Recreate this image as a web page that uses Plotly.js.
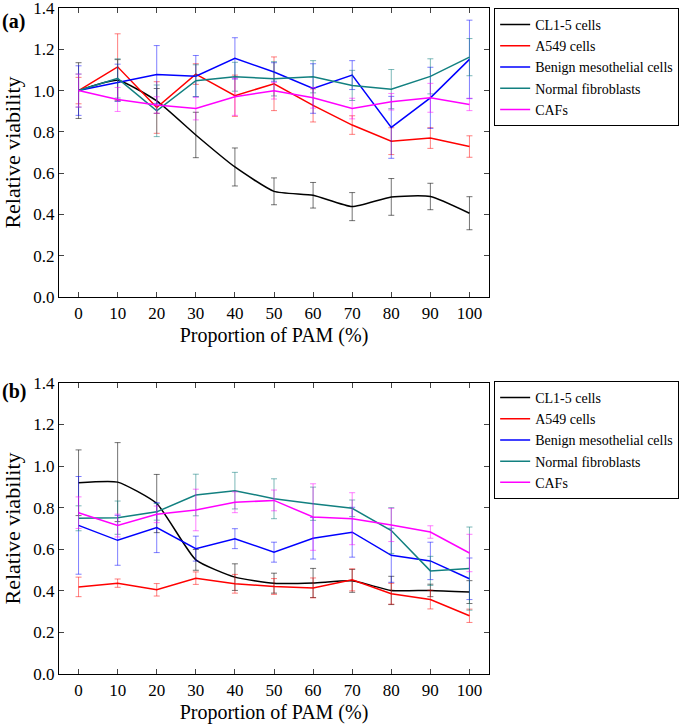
<!DOCTYPE html>
<html>
<head>
<meta charset="utf-8">
<script src="https://cdn.plot.ly/plotly-3.0.1.min.js"></script>
<style>
  body { margin: 0; background: #fff; }
  #chart { width: 685px; height: 724px; }
</style>
</head>
<body>
<div id="chart"></div>
<script>
var pam = [0, 10, 20, 30, 40, 50, 60, 70, 80, 90, 100];
var names = ["CL1-5 cells", "A549 cells", "Benign mesothelial cells", "Normal fibroblasts", "CAFs"];
var colors = ["#000000", "#ff0000", "#0000ff", "#128080", "#ff00ff"];
var errColors = ["rgba(0,0,0,0.55)", "rgba(255,0,0,0.5)", "rgba(0,0,255,0.5)", "rgba(18,128,128,0.55)", "rgba(255,0,255,0.5)"];

// panel (a)
var clA = [1.0, 1.05, 0.95, 0.785, 0.63, 0.512, 0.493, 0.438, 0.485, 0.487, 0.406];
var clAErr = [0.135, 0.1, 0.06, 0.11, 0.092, 0.065, 0.062, 0.068, 0.089, 0.064, 0.08];
var a549A = [1.0, 1.115, 0.918, 1.08, 0.975, 1.033, 0.928, 0.833, 0.755, 0.77, 0.729];
var a549AErr = [0.064, 0.16, 0.125, 0.05, 0.1, 0.13, 0.08, 0.045, 0.065, 0.05, 0.052];
var benA = [1.0, 1.038, 1.078, 1.07, 1.156, 1.09, 1.01, 1.075, 0.822, 0.965, 1.151];
var benAErr = [0.12, 0.09, 0.14, 0.1, 0.1, 0.045, 0.12, 0.07, 0.15, 0.148, 0.19];
var fibA = [1.0, 1.059, 0.902, 1.048, 1.067, 1.057, 1.067, 1.025, 1.007, 1.069, 1.162];
var fibAErr = [0.08, 0.095, 0.125, 0.077, 0.07, 0.083, 0.078, 0.073, 0.095, 0.085, 0.09];
var cafA = [1.0, 0.957, 0.93, 0.913, 0.97, 0.999, 0.965, 0.913, 0.946, 0.965, 0.933];
var cafAErr = [0.08, 0.058, 0.04, 0.055, 0.09, 0.04, 0.05, 0.05, 0.04, 0.07, 0.03];

// panel (b)
var clB = [0.92, 0.923, 0.82, 0.549, 0.466, 0.437, 0.438, 0.448, 0.402, 0.402, 0.394];
var clBErr = [0.158, 0.19, 0.14, 0.05, 0.064, 0.048, 0.07, 0.055, 0.068, 0.03, 0.055];
var a549B = [0.419, 0.437, 0.405, 0.461, 0.434, 0.421, 0.414, 0.453, 0.386, 0.358, 0.28];
var a549BErr = [0.047, 0.02, 0.03, 0.03, 0.045, 0.038, 0.048, 0.053, 0.05, 0.045, 0.032];
var benB = [0.715, 0.643, 0.704, 0.603, 0.651, 0.586, 0.653, 0.682, 0.571, 0.544, 0.458];
var benBErr = [0.235, 0.12, 0.12, 0.06, 0.048, 0.048, 0.1, 0.12, 0.13, 0.09, 0.1];
var fibB = [0.749, 0.752, 0.78, 0.861, 0.882, 0.843, 0.819, 0.797, 0.69, 0.496, 0.507];
var fibBErr = [0.06, 0.08, 0.04, 0.1, 0.088, 0.096, 0.08, 0.04, 0.11, 0.07, 0.2];
var cafB = [0.776, 0.714, 0.768, 0.789, 0.826, 0.835, 0.755, 0.747, 0.717, 0.683, 0.582];
var cafBErr = [0.076, 0.055, 0.04, 0.1, 0.05, 0.05, 0.16, 0.125, 0.08, 0.03, 0.09];

var seriesA = [[clA, clAErr], [a549A, a549AErr], [benA, benAErr], [fibA, fibAErr], [cafA, cafAErr]];
var seriesB = [[clB, clBErr], [a549B, a549BErr], [benB, benBErr], [fibB, fibBErr], [cafB, cafBErr]];

var font = "Liberation Serif";
var data = [];

function addPanel(series, xa, ya, leg) {
  for (var i = 0; i < series.length; i++) {
    data.push({
      x: pam,
      y: series[i][0],
      name: names[i],
      type: 'scatter',
      mode: 'lines',
      xaxis: xa,
      yaxis: ya,
      legend: leg,
      line: {color: colors[i], width: 1.5, shape: i == 0 ? 'spline' : 'linear', smoothing: 0.5},
      error_y: {
        type: 'data',
        array: series[i][1],
        visible: true,
        color: errColors[i],
        thickness: 1,
        width: 3
      }
    });
  }
}
addPanel(seriesA, 'x', 'y', 'legend');
addPanel(seriesB, 'x2', 'y2', 'legend2');

function xAxis(anchor) {
  return {
    anchor: anchor,
    range: [-5, 105],
    tickvals: pam,
    ticks: 'inside',
    ticklen: 5,
    showline: true,
    linecolor: 'black',
    linewidth: 1.2,
    mirror: 'ticks',
    showgrid: false,
    zeroline: false,
    tickfont: {family: font, size: 17, color: 'black'},
    title: {text: 'Proportion of PAM (%)', font: {family: font, size: 20, color: 'black'}, standoff: 6}
  };
}
function yAxis(anchor, domain) {
  return {
    anchor: anchor,
    domain: domain,
    range: [0, 1.4],
    dtick: 0.2,
    tickformat: '.1f',
    ticks: 'inside',
    ticklen: 5,
    showline: true,
    linecolor: 'black',
    linewidth: 1.2,
    mirror: 'ticks',
    showgrid: false,
    zeroline: false,
    ticklabeloverflow: 'allow',
    tickfont: {family: font, size: 17, color: 'black'},
    title: {text: 'Relative viability', font: {family: font, size: 22, color: 'black'}, standoff: 6}
  };
}

var legendStyle = {
  x: 1.012,
  xanchor: 'left',
  yanchor: 'top',
  bgcolor: 'white',
  bordercolor: 'black',
  borderwidth: 1,
  font: {family: font, size: 14, color: 'black'},
  itemwidth: 30,
  tracegroupgap: 0
};

var layout = {
  width: 685,
  height: 724,
  margin: {l: 59, r: 196, t: 8, b: 50, autoexpand: false},
  paper_bgcolor: 'white',
  plot_bgcolor: 'white',
  showlegend: true,
  xaxis: xAxis('y'),
  yaxis: yAxis('x', [0.566, 1]),
  xaxis2: xAxis('y2'),
  yaxis2: yAxis('x2', [0, 0.437]),
  legend: Object.assign({}, legendStyle, {y: 1}),
  legend2: Object.assign({}, legendStyle, {y: 0.44}),
  annotations: [
    {text: '<b>(a)</b>', xref: 'paper', yref: 'paper', x: -0.137, y: 1.0, xanchor: 'left', yanchor: 'top',
     showarrow: false, font: {family: font, size: 20, color: 'black'}},
    {text: '<b>(b)</b>', xref: 'paper', yref: 'paper', x: -0.137, y: 0.444, xanchor: 'left', yanchor: 'top',
     showarrow: false, font: {family: font, size: 20, color: 'black'}}
  ]
};

Plotly.newPlot('chart', data, layout, {displayModeBar: false});
</script>
</body>
</html>
